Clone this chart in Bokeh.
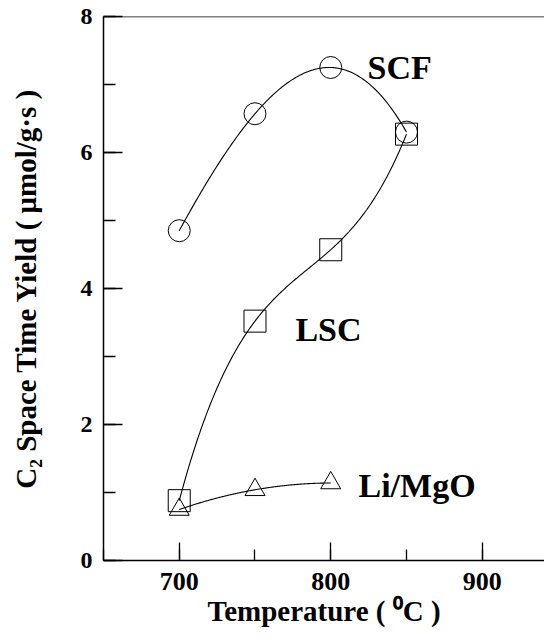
import numpy as np
from bokeh.plotting import figure
from bokeh.models import SingleIntervalTicker, Range1d, Span, Label
from bokeh.embed import file_html
from bokeh.resources import INLINE

# ---- data ----
temps4 = [700, 750, 800, 850]
temps3 = [700, 750, 800]
scf = [4.85, 6.57, 7.25, 6.30]
lsc = [0.88, 3.52, 4.57, 6.27]
limgo = [0.75, 1.04, 1.14]
series_names = ["SCF", "LSC", "Li/MgO"]
x_title = "Temperature ( \u2070C )"
y_title = "C\u2082 Space Time Yield ( \u03bcmol/g\u00b7s )"
x_ticks_major = 100
y_ticks_major = 2

FONT = "Liberation Serif"

p = figure(width=544, height=635, output_backend="svg", toolbar_location=None,
           x_range=Range1d(650, 941.1), y_range=Range1d(0, 8),
           min_border_left=103, min_border_right=0, min_border_top=16,
           min_border_bottom=75)
p.outline_line_color = None
p.grid.visible = False
p.background_fill_color = "white"
p.border_fill_color = "white"

# axes
p.xaxis.ticker = SingleIntervalTicker(interval=x_ticks_major, num_minor_ticks=2)
p.yaxis.ticker = SingleIntervalTicker(interval=y_ticks_major, num_minor_ticks=2)
for ax in (p.xaxis, p.yaxis):
    ax.major_tick_out = 0
    ax.minor_tick_out = 0
    ax.axis_line_color = "black"
    ax.axis_line_width = 1.5
    ax.major_tick_line_width = 1.3
    ax.minor_tick_line_width = 1.3
    ax.major_label_text_font = FONT
    ax.major_label_text_font_style = "bold"
    ax.major_label_text_color = "black"
    ax.axis_label_text_font = FONT
    ax.axis_label_text_font_style = "bold"
    ax.axis_label_text_font_size = "29px"
    ax.axis_label_text_color = "black"
p.xaxis.major_label_text_font_size = "26px"
p.yaxis.major_label_text_font_size = "24px"
p.xaxis.major_tick_in = 18
p.xaxis.minor_tick_in = 11
p.yaxis.major_tick_in = 19
p.yaxis.minor_tick_in = 12
p.xaxis.major_label_standoff = 12
p.yaxis.major_label_standoff = 11
p.xaxis.axis_label = x_title
p.yaxis.axis_label = y_title
p.xaxis.axis_label_standoff = 2
p.yaxis.axis_label_standoff = 36

# top frame line
p.add_layout(Span(location=8, dimension="width", line_color="black", line_width=1.5))


def smooth(xs, ys):
    c = np.polyfit(xs, ys, len(xs) - 1)
    xx = np.linspace(xs[0], xs[-1], 200)
    return xx, np.polyval(c, xx)


for xs, ys in ((temps4, scf), (temps4, lsc), (temps3, limgo)):
    xx, yy = smooth(xs, ys)
    p.line(xx, yy, line_color="black", line_width=1.1)

p.scatter(temps4, scf, marker="circle", size=22, fill_color=None,
          line_color="black", line_width=1)
p.scatter(temps4, lsc, marker="square", size=22, fill_color=None,
          line_color="black", line_width=1)
p.scatter(temps3, limgo, marker="triangle", size=20, fill_color=None,
          line_color="black", line_width=1)

label_pos = [(824.3, 7.257), (776.7, 3.404), (818.3, 1.103)]
for name, (lx, ly) in zip(series_names, label_pos):
    p.add_layout(Label(x=lx, y=ly, text=name, text_font=FONT,
                       text_font_style="bold", text_font_size="34px",
                       text_color="black", text_baseline="middle"))

open("out.html", "w").write(file_html(p, INLINE))
